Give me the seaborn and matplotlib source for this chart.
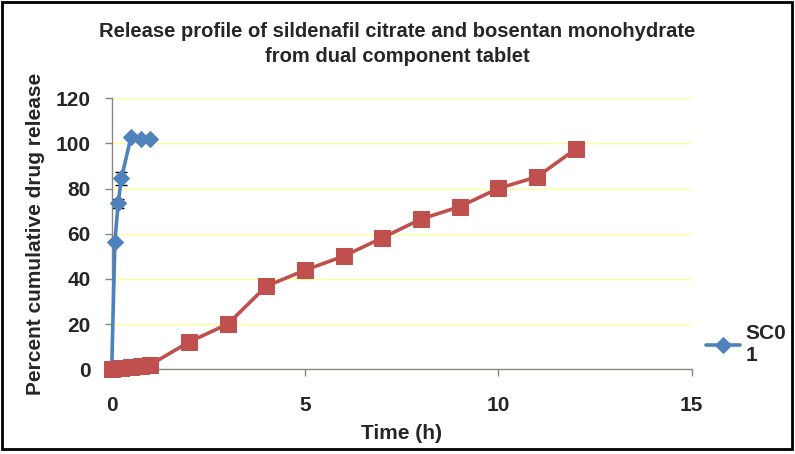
import matplotlib
matplotlib.use("Agg")
import matplotlib.pyplot as plt
import seaborn as sns
import pandas as pd
from matplotlib.patches import Rectangle

# Data
t_sc = [0, 5/60, 10/60, 15/60, 30/60, 45/60, 1.0]
rel_sc = [0, 56.5, 73.5, 84.5, 102.9, 101.8, 101.8]
err_sc = [0, 0, 2, 3, 0, 0, 0]

t_bm = [0, 0.25, 0.5, 0.75, 1, 2, 3, 4, 5, 6, 7, 8, 9, 10, 11, 12]
rel_bm = [0, 0.4, 1.2, 1.6, 2.0, 12.1, 20.0, 36.8, 43.9, 50.1, 58.2, 66.5, 72.0, 80.1, 85.2, 97.5]
err_bm = [0, 0, 0, 0, 0, 0, 0, 0, 0, 0, 0, 0, 3, 2.5, 0, 0]

x_ticks = [0, 5, 10, 15]
y_ticks = [0, 20, 40, 60, 80, 100, 120]
title = "Release profile of sildenafil citrate and bosentan monohydrate\nfrom dual component tablet"
legend_label = "SC0\n1"

sns.set_style("white")
plt.rcParams['font.family'] = ['Liberation Sans', 'DejaVu Sans']
plt.rcParams['font.weight'] = 'bold'

fig = plt.figure(figsize=(7.95, 4.54), dpi=100)
ax = fig.add_axes([0.1405, 0.1866, 0.7295, 0.5969])

blue = "#4F81BD"
red = "#C0504D"

df_sc = pd.DataFrame({"t": t_sc, "r": rel_sc})
df_bm = pd.DataFrame({"t": t_bm, "r": rel_bm})

ax.errorbar(t_sc, rel_sc, yerr=err_sc, fmt='none', ecolor='black', capsize=4, elinewidth=1, zorder=1)
ax.errorbar(t_bm, rel_bm, yerr=err_bm, fmt='none', ecolor='black', capsize=5, elinewidth=1, zorder=1)

sns.lineplot(data=df_sc, x="t", y="r", ax=ax, color=blue, lw=2.6, marker="D",
             markersize=8, markeredgecolor=blue, zorder=3, label=legend_label, clip_on=False)
sns.lineplot(data=df_bm, x="t", y="r", ax=ax, color=red, lw=2.6, marker="s",
             markersize=11, markeredgecolor=red, zorder=4, label="_nolegend_", clip_on=False)

ax.set_xlim(0, 15)
ax.set_ylim(0, 120)
ax.set_xticks(x_ticks)
ax.set_yticks(y_ticks)
ax.grid(axis='y', color='#FFFF99', lw=1)
ax.grid(axis='x', visible=False)
for s in ['top', 'right']:
    ax.spines[s].set_visible(False)
for s in ['left', 'bottom']:
    ax.spines[s].set_color('#868686')
    ax.spines[s].set_linewidth(1)
ax.tick_params(axis='both', direction='out', color='#868686', length=5, width=1,
               labelsize=15, bottom=True, left=True)
ax.tick_params(axis='x', pad=14)
ax.tick_params(axis='y', pad=10)
for lab in ax.get_xticklabels() + ax.get_yticklabels():
    lab.set_fontweight('bold')

ax.set_xlabel("Time (h)", fontsize=15, fontweight='bold', labelpad=7)
ax.set_ylabel("Percent cumulative drug release", fontsize=15, fontweight='bold', labelpad=8)
fig.text(0.5, 0.903, title, ha='center', va='center', fontsize=14.5, fontweight='bold',
         linespacing=1.35)

leg = ax.legend(loc='center left', bbox_to_anchor=(1.0, 0.09), frameon=False, fontsize=15,
                handlelength=1.6, handletextpad=0.3, borderaxespad=0.3)
for t in leg.get_texts():
    t.set_fontweight('bold')

fig.patches.append(Rectangle((0.003, 0.01), 0.993, 0.985, transform=fig.transFigure,
                             fill=False, edgecolor='black', lw=2))

fig.savefig("out.png", dpi=100)
